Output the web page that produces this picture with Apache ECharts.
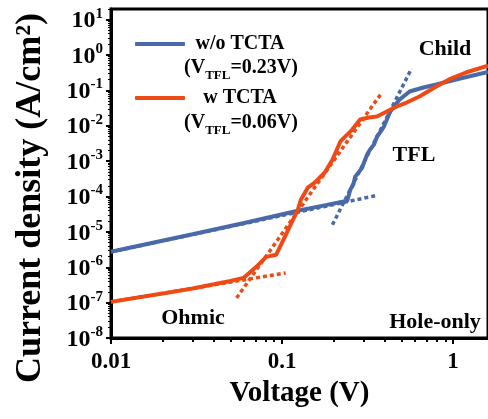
<!DOCTYPE html>
<html>
<head>
<meta charset="utf-8">
<script src="https://cdn.jsdelivr.net/npm/echarts@6/dist/echarts.min.js"></script>
<style>
  html, body { margin: 0; padding: 0; background: #fff; }
  #chart { width: 488px; height: 419px; }
</style>
</head>
<body>
<div id="chart"></div>
<script>
const elChart = document.getElementById('chart');

// Data (V in volts, J in A/cm2)
const blueV = [0.01, 0.03, 0.06, 0.1237, 0.18, 0.2407, 0.2505, 0.2608, 0.2677, 0.2824, 0.2939, 0.306, 0.3141,
    0.327, 0.3448, 0.3589, 0.3735, 0.394, 0.41, 0.427, 0.45, 0.4875, 0.521, 0.557, 0.611, 0.671, 0.798, 1.041, 1.6];
const blueJ = [2.73e-6, 8.6e-6, 1.79e-5, 3.97e-5, 5.7e-5, 7.6e-5, 1.56e-4, 2.16e-4, 3.6e-4, 5.05e-4, 6.5e-4, 1.1e-3, 1.53e-3,
    2.12e-3, 2.93e-3, 4.9e-3, 6.4e-3, 9.5e-3, 0.015, 0.0237, 0.035, 0.0552, 0.0718, 0.093, 0.106, 0.121, 0.147, 0.204, 0.33];

const orangeV = [0.01, 0.02, 0.03, 0.04, 0.05, 0.0595, 0.0707, 0.0808, 0.0923, 0.104, 0.1158, 0.1237, 0.1288, 0.1414,
    0.1552, 0.1773, 0.1971, 0.2193, 0.2573, 0.2862, 0.3226, 0.3589, 0.41, 0.4684, 0.5351, 0.6361, 0.7973, 0.9482, 1.189, 1.6];
const orangeJ = [1.05e-7, 1.8e-7, 2.5e-7, 3.3e-7, 4.1e-7, 5.0e-7, 1.03e-6, 1.97e-6, 2.25e-6, 7.3e-6, 2.2e-5, 4.2e-5, 8.1e-5, 1.77e-4,
    2.46e-4, 4.7e-4, 1.1e-3, 3.6e-3, 7.8e-3, 0.015, 0.0171, 0.0182, 0.0252, 0.035, 0.0454, 0.067, 0.129, 0.204, 0.321, 0.5];

// fitted lines (ohmic and trap-filled), end points
const blueOhmicFit = [[0.01, 2.73e-6], [0.35, 1.05e-4]];
const blueTflFit = [[0.197, 1.59e-5], [0.572, 0.417]];
const orangeOhmicFit = [[0.01, 1.05e-7], [0.105, 6.9e-7]];
const orangeTflFit = [[0.0542, 1.36e-7], [0.3835, 0.087]];

// ticks
const xMajorTicks = [0.01, 0.1, 1];
const xMinorTicks = [0.02, 0.03, 0.04, 0.05, 0.06, 0.07, 0.08, 0.09, 0.2, 0.3, 0.4, 0.5, 0.6, 0.7, 0.8, 0.9];
const yMajorTicks = [1e-8, 1e-7, 1e-6, 1e-5, 1e-4, 1e-3, 1e-2, 1e-1, 1, 10];
const yMinorTicks = [];
for (let e = -8; e <= 0; e++) {
    for (let m = 2; m <= 9; m++) yMinorTicks.push(m * Math.pow(10, e));
}
yMinorTicks.push(20);

const BLUE = '#4a69a9';
const ORANGE = '#ef4a15';
const FONT = '"Liberation Serif", "Times New Roman", serif';

function pairs(xs, ys) {
    return xs.map((x, i) => [x, ys[i]]);
}

const chart = echarts.init(elChart, null, { renderer: 'canvas' });

const boldText = { fontFamily: FONT, fontWeight: 'bold', color: '#000' };

const option = {
    animation: false,
    grid: {
        left: 111,
        top: 9,
        width: 381,
        height: 329,
        show: true,
        borderColor: '#000',
        borderWidth: 3,
    },

    legend: {
        data: ['w/o TCTA', 'w TCTA'],
        orient: 'vertical',
        left: 135,
        top: 34,
        padding: 0,
        itemWidth: 50,
        itemHeight: 4,
        itemGap: 34,
        itemTextGap: 7,
        icon: 'roundRect',
        formatter: name => '{a|' + name + '}',
        textStyle: {
            rich: {
                a: { ...boldText, fontSize: 20, width: 100, align: 'center' },
            },
        },
    },

    xAxis: [
        {
            type: 'log',
            logBase: 10,
            min: 0.01,
            max: 1.6,
            position: 'bottom',
            name: 'Voltage (V)',
            nameLocation: 'middle',
            nameGap: 40,
            nameTextStyle: { ...boldText, fontSize: 29 },
            axisLine: { lineStyle: { color: '#000', width: 3 } },
            axisTick: { customValues: xMajorTicks, length: 6, lineStyle: { color: '#000', width: 2 } },
            axisLabel: {
                customValues: xMajorTicks,
                margin: 13,
                ...boldText,
                fontSize: 23,
                formatter: v => String(v),
            },
            splitLine: { show: false },
        },
        {
            type: 'log',
            logBase: 10,
            min: 0.01,
            max: 1.6,
            position: 'bottom',
            axisLine: { show: false },
            axisTick: { customValues: xMinorTicks, length: 4, lineStyle: { color: '#000', width: 2 } },
            axisLabel: { show: false },
            splitLine: { show: false },
        },
    ],

    yAxis: [
        {
            type: 'log',
            logBase: 10,
            min: 1e-8,
            max: 20,
            position: 'left',
            axisLine: { lineStyle: { color: '#000', width: 3 } },
            axisTick: { customValues: yMajorTicks, length: 5, lineStyle: { color: '#000', width: 2 } },
            axisLabel: {
                customValues: yMajorTicks,
                margin: 8,
                formatter: v => '{b|10}{e|' + Math.round(Math.log10(v)) + '}',
                rich: {
                    b: { ...boldText, fontSize: 24, lineHeight: 27, verticalAlign: 'bottom' },
                    e: { ...boldText, fontSize: 15, lineHeight: 15, verticalAlign: 'top' },
                },
            },
            splitLine: { show: false },
        },
        {
            type: 'log',
            logBase: 10,
            min: 1e-8,
            max: 20,
            position: 'left',
            axisLine: { show: false },
            axisTick: { customValues: yMinorTicks, length: 3, lineStyle: { color: '#000', width: 1 } },
            axisLabel: { show: false },
            splitLine: { show: false },
        },
    ],

    series: [
        {
            name: 'blue ohmic fit', type: 'line', symbol: 'none', data: blueOhmicFit,
            lineStyle: { color: BLUE, width: 3.5, type: [4, 3] }, z: 1,
        },
        {
            name: 'blue tfl fit', type: 'line', symbol: 'none', data: blueTflFit,
            lineStyle: { color: BLUE, width: 3.5, type: [4, 3] }, z: 1,
        },
        {
            name: 'orange ohmic fit', type: 'line', symbol: 'none', data: orangeOhmicFit,
            lineStyle: { color: ORANGE, width: 3.5, type: [4, 3] }, z: 1,
        },
        {
            name: 'orange tfl fit', type: 'line', symbol: 'none', data: orangeTflFit,
            lineStyle: { color: ORANGE, width: 3.5, type: [4, 3] }, z: 1,
        },
        {
            name: 'w/o TCTA', type: 'line', symbol: 'none', data: pairs(blueV, blueJ),
            color: BLUE, lineStyle: { color: BLUE, width: 4 }, z: 3,
        },
        {
            name: 'w TCTA', type: 'line', symbol: 'none', data: pairs(orangeV, orangeJ),
            color: ORANGE, lineStyle: { color: ORANGE, width: 4 }, z: 3,
        },
    ],

    graphic: [
        {
            type: 'text', x: 31, y: 198, rotation: Math.PI / 2,
            style: {
                text: 'Current density (A/cm²)', font: 'bold 36px ' + FONT, fill: '#000',
                textAlign: 'center', textVerticalAlign: 'middle',
            },
        },
        {
            type: 'text', x: 241, y: 70,
            style: {
                text: '{p|(V}{s|TFL}{p|=0.23V)}', textAlign: 'center', textVerticalAlign: 'middle',
                rich: {
                    p: { fontFamily: FONT, fontWeight: 'bold', fontSize: 20, lineHeight: 24, fill: '#000', verticalAlign: 'top' },
                    s: { fontFamily: FONT, fontWeight: 'bold', fontSize: 13, lineHeight: 13, fill: '#000', verticalAlign: 'bottom' },
                },
            },
        },
        {
            type: 'text', x: 241, y: 125,
            style: {
                text: '{p|(V}{s|TFL}{p|=0.06V)}', textAlign: 'center', textVerticalAlign: 'middle',
                rich: {
                    p: { fontFamily: FONT, fontWeight: 'bold', fontSize: 20, lineHeight: 24, fill: '#000', verticalAlign: 'top' },
                    s: { fontFamily: FONT, fontWeight: 'bold', fontSize: 13, lineHeight: 13, fill: '#000', verticalAlign: 'bottom' },
                },
            },
        },
        {
            type: 'text', x: 445, y: 49,
            style: { text: 'Child', font: 'bold 22px ' + FONT, fill: '#000', textAlign: 'center', textVerticalAlign: 'middle' },
        },
        {
            type: 'text', x: 414, y: 155,
            style: { text: 'TFL', font: 'bold 22px ' + FONT, fill: '#000', textAlign: 'center', textVerticalAlign: 'middle' },
        },
        {
            type: 'text', x: 193, y: 318,
            style: { text: 'Ohmic', font: 'bold 22px ' + FONT, fill: '#000', textAlign: 'center', textVerticalAlign: 'middle' },
        },
        {
            type: 'text', x: 435, y: 322,
            style: { text: 'Hole-only', font: 'bold 22px ' + FONT, fill: '#000', textAlign: 'center', textVerticalAlign: 'middle' },
        },
    ],
};

chart.setOption(option);
</script>
</body>
</html>
